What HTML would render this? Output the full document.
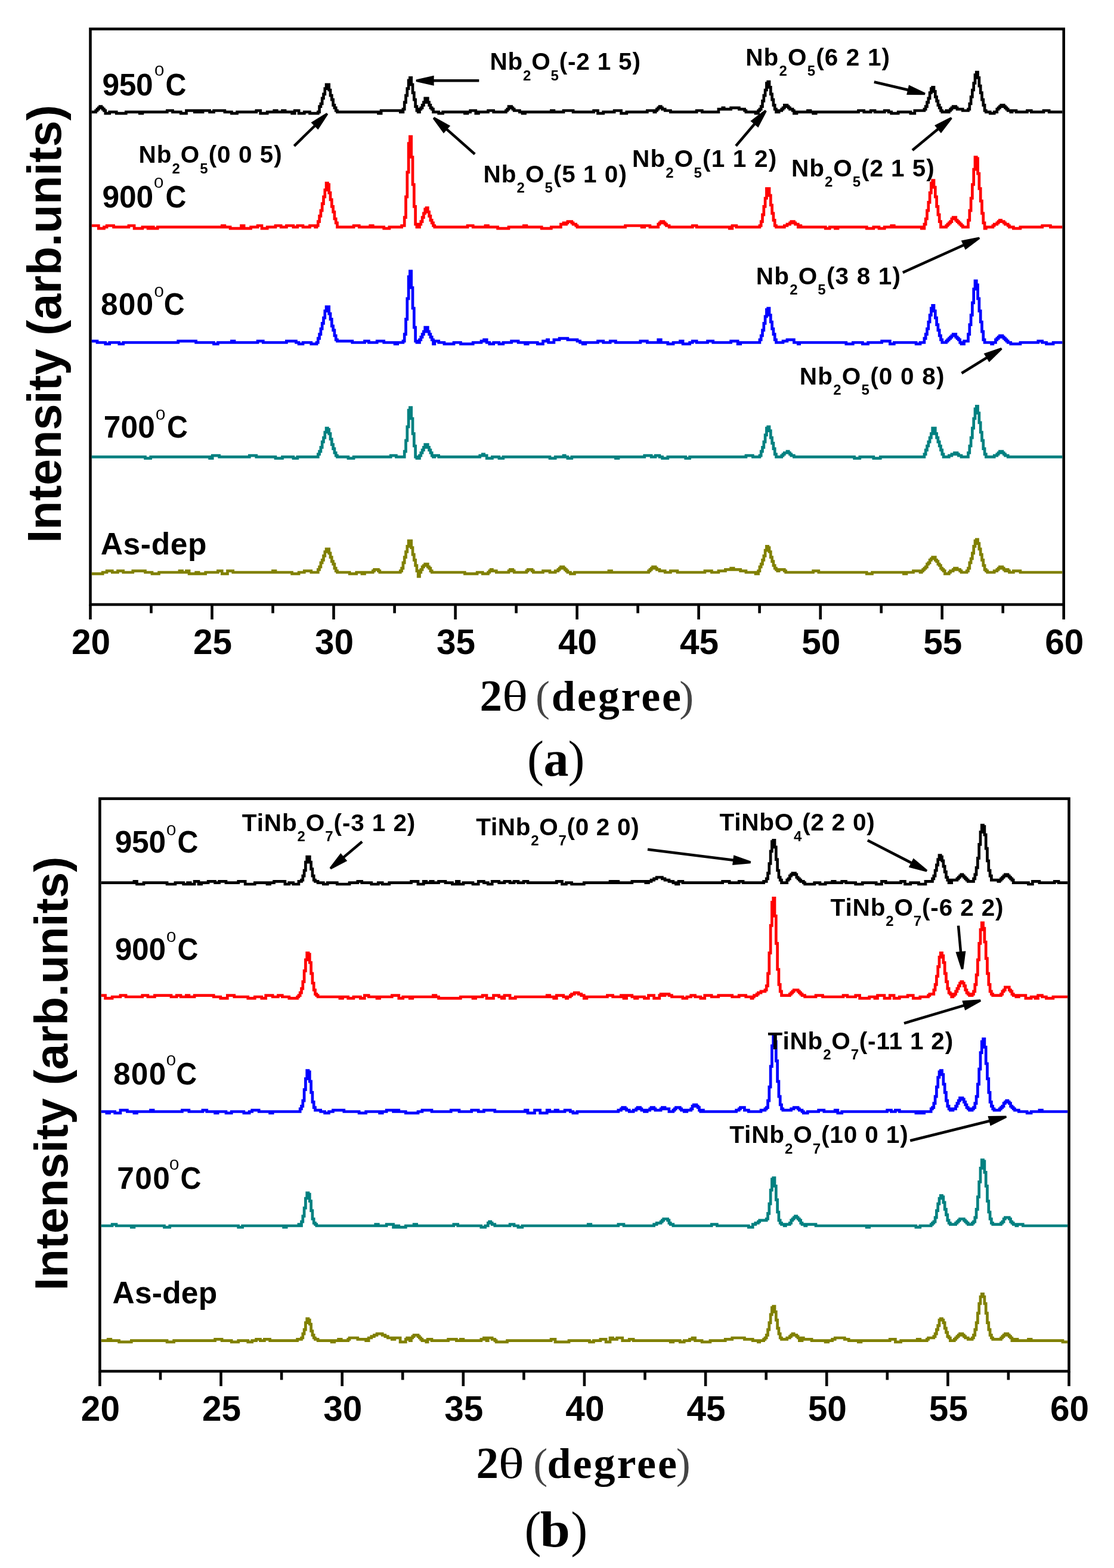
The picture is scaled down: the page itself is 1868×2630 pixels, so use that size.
<!DOCTYPE html>
<html><head><meta charset="utf-8"><title>XRD patterns</title>
<style>
html,body{margin:0;padding:0;background:#fff;}
svg{display:block;}
.b{font-family:"Liberation Sans",Arial,sans-serif;font-weight:bold;fill:#000;}
.r{font-family:"Liberation Sans",Arial,sans-serif;font-weight:normal;fill:#000;}
.sb{font-family:"Liberation Serif","Times New Roman",serif;font-weight:bold;fill:#000;}
.sr{font-family:"Liberation Serif","Times New Roman",serif;font-weight:normal;fill:#000;}
.srl{font-family:"Liberation Serif","Times New Roman",serif;font-weight:normal;fill:#444;}
</style></head>
<body>
<svg width="1868" height="2630" viewBox="0 0 1868 2630">
<rect x="0" y="0" width="1868" height="2630" fill="#fff"/>
<rect x="151.5" y="48.6" width="1632.2" height="965.4" fill="none" stroke="#000" stroke-width="4.6"/><line x1="151.5" y1="1014.0" x2="151.5" y2="1039.0" stroke="#000" stroke-width="4.6"/><line x1="253.5" y1="1014.0" x2="253.5" y2="1028.5" stroke="#000" stroke-width="4.6"/><line x1="355.5" y1="1014.0" x2="355.5" y2="1039.0" stroke="#000" stroke-width="4.6"/><line x1="457.5" y1="1014.0" x2="457.5" y2="1028.5" stroke="#000" stroke-width="4.6"/><line x1="559.5" y1="1014.0" x2="559.5" y2="1039.0" stroke="#000" stroke-width="4.6"/><line x1="661.6" y1="1014.0" x2="661.6" y2="1028.5" stroke="#000" stroke-width="4.6"/><line x1="763.6" y1="1014.0" x2="763.6" y2="1039.0" stroke="#000" stroke-width="4.6"/><line x1="865.6" y1="1014.0" x2="865.6" y2="1028.5" stroke="#000" stroke-width="4.6"/><line x1="967.6" y1="1014.0" x2="967.6" y2="1039.0" stroke="#000" stroke-width="4.6"/><line x1="1069.6" y1="1014.0" x2="1069.6" y2="1028.5" stroke="#000" stroke-width="4.6"/><line x1="1171.6" y1="1014.0" x2="1171.6" y2="1039.0" stroke="#000" stroke-width="4.6"/><line x1="1273.6" y1="1014.0" x2="1273.6" y2="1028.5" stroke="#000" stroke-width="4.6"/><line x1="1375.7" y1="1014.0" x2="1375.7" y2="1039.0" stroke="#000" stroke-width="4.6"/><line x1="1477.7" y1="1014.0" x2="1477.7" y2="1028.5" stroke="#000" stroke-width="4.6"/><line x1="1579.7" y1="1014.0" x2="1579.7" y2="1039.0" stroke="#000" stroke-width="4.6"/><line x1="1681.7" y1="1014.0" x2="1681.7" y2="1028.5" stroke="#000" stroke-width="4.6"/><line x1="1783.7" y1="1014.0" x2="1783.7" y2="1039.0" stroke="#000" stroke-width="4.6"/>
<rect x="167.4" y="1339.6" width="1625.1" height="960.4" fill="none" stroke="#000" stroke-width="4.6"/><line x1="167.4" y1="2300.0" x2="167.4" y2="2325.0" stroke="#000" stroke-width="4.6"/><line x1="269.0" y1="2300.0" x2="269.0" y2="2314.5" stroke="#000" stroke-width="4.6"/><line x1="370.5" y1="2300.0" x2="370.5" y2="2325.0" stroke="#000" stroke-width="4.6"/><line x1="472.1" y1="2300.0" x2="472.1" y2="2314.5" stroke="#000" stroke-width="4.6"/><line x1="573.7" y1="2300.0" x2="573.7" y2="2325.0" stroke="#000" stroke-width="4.6"/><line x1="675.2" y1="2300.0" x2="675.2" y2="2314.5" stroke="#000" stroke-width="4.6"/><line x1="776.8" y1="2300.0" x2="776.8" y2="2325.0" stroke="#000" stroke-width="4.6"/><line x1="878.4" y1="2300.0" x2="878.4" y2="2314.5" stroke="#000" stroke-width="4.6"/><line x1="979.9" y1="2300.0" x2="979.9" y2="2325.0" stroke="#000" stroke-width="4.6"/><line x1="1081.5" y1="2300.0" x2="1081.5" y2="2314.5" stroke="#000" stroke-width="4.6"/><line x1="1183.1" y1="2300.0" x2="1183.1" y2="2325.0" stroke="#000" stroke-width="4.6"/><line x1="1284.7" y1="2300.0" x2="1284.7" y2="2314.5" stroke="#000" stroke-width="4.6"/><line x1="1386.2" y1="2300.0" x2="1386.2" y2="2325.0" stroke="#000" stroke-width="4.6"/><line x1="1487.8" y1="2300.0" x2="1487.8" y2="2314.5" stroke="#000" stroke-width="4.6"/><line x1="1589.4" y1="2300.0" x2="1589.4" y2="2325.0" stroke="#000" stroke-width="4.6"/><line x1="1690.9" y1="2300.0" x2="1690.9" y2="2314.5" stroke="#000" stroke-width="4.6"/><line x1="1792.5" y1="2300.0" x2="1792.5" y2="2325.0" stroke="#000" stroke-width="4.6"/>
<path d="M153.8,187.8H160.7V185.5H163.0V183.2H165.3V180.9H167.6V178.6H169.9V180.9H172.2V183.2H174.5V185.5H176.8V190.1H183.7V187.8H195.2V190.1H211.3V187.8H234.3V190.1H238.9V187.8H280.3V185.5H289.5V187.8H303.3V190.1H312.5V185.5H326.3V187.8H330.9V185.5H335.5V187.8H340.1V185.5H351.6V187.8H358.5V185.5H376.9V187.8H388.4V190.1H397.6V187.8H429.8V185.5H436.7V190.1H448.2V187.8H459.7V185.5H464.3V187.8H473.5V185.5H478.1V187.8H489.6V190.1H494.2V185.5H501.1V190.1H510.3V187.8H519.5V190.1H533.3V187.8H535.6V178.6H537.9V174.0H540.2V164.8H542.5V157.9H544.8V148.7H547.1V141.8H551.7V151.0H554.0V160.2H556.3V167.1H558.6V176.3H560.9V180.9H563.2V185.5H565.5V187.8H634.5V190.1H639.1V185.5H671.3V187.8H675.9V183.2H678.2V171.7H680.5V160.2H682.8V148.7H685.1V134.9H687.4V130.3H689.7V141.8H692.0V155.6H694.3V167.1H696.6V178.6H698.9V185.5H701.2V187.8H703.5V183.2H705.8V180.9H708.1V176.3H710.4V171.7H712.7V164.8H717.3V171.7H719.6V176.3H721.9V180.9H724.2V183.2H726.5V187.8H735.7V190.1H742.6V187.8H779.4V190.1H784.0V187.8H788.6V185.5H797.8V190.1H802.4V187.8H818.5V185.5H827.7V187.8H848.4V185.5H850.7V183.2H853.0V178.6H857.6V180.9H859.9V183.2H862.2V185.5H871.4V187.8H876.0V190.1H880.6V187.8H924.3V185.5H928.9V187.8H945.0V185.5H961.1V187.8H995.6V185.5H1002.5V190.1H1011.7V187.8H1030.1V185.5H1041.6V190.1H1050.8V187.8H1085.3V185.5H1096.8V187.8H1099.1V185.5H1101.4V183.2H1103.7V180.9H1106.0V178.6H1108.3V180.9H1110.6V183.2H1115.2V185.5H1124.4V187.8H1168.1V185.5H1177.3V187.8H1204.9V183.2H1211.8V180.9H1214.1V183.2H1225.6V180.9H1239.4V183.2H1248.6V185.5H1250.9V187.8H1267.0V190.1H1271.6V185.5H1273.9V183.2H1276.2V178.6H1278.5V169.4H1280.8V160.2H1283.1V151.0H1285.4V139.5H1287.7V137.2H1290.0V146.4H1292.3V157.9H1294.6V167.1H1296.9V176.3H1299.2V183.2H1301.5V187.8H1306.1V185.5H1310.7V183.2H1313.0V180.9H1315.3V176.3H1319.9V178.6H1322.2V180.9H1324.5V183.2H1329.1V185.5H1331.4V190.1H1336.0V187.8H1354.4V185.5H1359.0V187.8H1363.6V190.1H1368.2V187.8H1439.5V185.5H1448.7V187.8H1460.2V185.5H1467.1V187.8H1483.2V185.5H1490.1V187.8H1494.7V190.1H1506.2V187.8H1526.9V190.1H1533.8V185.5H1549.9V183.2H1552.2V178.6H1554.5V171.7H1556.8V164.8H1559.1V155.6H1561.4V148.7H1563.7V146.4H1566.0V153.3H1568.3V162.5H1570.6V169.4H1572.9V176.3H1575.2V180.9H1577.5V185.5H1579.8V187.8H1586.7V185.5H1589.0V187.8H1591.3V185.5H1593.6V183.2H1595.9V180.9H1598.2V178.6H1602.8V180.9H1605.1V183.2H1614.3V185.5H1623.5V183.2H1625.8V174.0H1628.1V162.5H1630.4V151.0H1632.7V139.5H1635.0V125.7H1637.3V121.1H1639.6V130.3H1641.9V144.1H1644.2V155.6H1646.5V167.1H1648.8V176.3H1651.1V185.5H1653.4V187.8H1660.3V190.1H1667.2V187.8H1671.8V183.2H1674.1V180.9H1676.4V178.6H1678.7V176.3H1683.3V178.6H1685.6V180.9H1687.9V183.2H1690.2V185.5H1694.8V187.8H1697.1V185.5H1704.0V187.8H1722.4V185.5H1729.3V187.8H1750.0V185.5H1759.2V187.8H1781.4" fill="none" stroke="#000000" stroke-width="4.7"/>
<path d="M153.8,378.5H165.3V383.1H174.5V380.8H179.1V378.5H190.6V380.8H215.9V378.5H225.1V383.1H238.9V380.8H248.1V383.1H252.7V380.8H257.3V383.1H264.2V380.8H372.3V378.5H376.9V380.8H386.1V383.1H404.5V378.5H409.1V383.1H420.6V380.8H432.1V378.5H439.0V383.1H448.2V380.8H462.0V378.5H471.2V380.8H480.4V378.5H491.9V380.8H498.8V378.5H508.0V380.8H519.5V378.5H528.7V380.8H531.0V378.5H533.3V371.6H535.6V362.4H537.9V353.2H540.2V341.7H542.5V330.2H544.8V318.7H547.1V307.2H549.4V309.5H551.7V323.3H554.0V334.8H556.3V346.3H558.6V355.5H560.9V367.0H563.2V373.9H565.5V380.8H593.1V378.5H602.3V380.8H620.7V378.5H625.3V380.8H643.7V383.1H652.9V380.8H673.6V378.5H678.2V364.7H680.5V330.2H682.8V288.8H685.1V240.5H687.4V229.0H689.7V263.5H692.0V309.5H694.3V346.3H696.6V376.2H698.9V380.8H703.5V376.2H705.8V371.6H708.1V364.7H710.4V357.8H712.7V350.9H715.0V348.6H717.3V355.5H719.6V362.4H721.9V369.3H724.2V373.9H726.5V378.5H728.8V380.8H784.0V378.5H793.2V380.8H813.9V378.5H818.5V380.8H834.6V383.1H853.0V380.8H878.3V378.5H882.9V380.8H908.2V383.1H924.3V380.8H940.4V376.2H945.0V373.9H947.3V376.2H949.6V373.9H951.9V371.6H958.8V373.9H961.1V376.2H965.7V378.5H968.0V380.8H1048.5V378.5H1076.1V380.8H1080.7V378.5H1089.9V380.8H1103.7V376.2H1106.0V373.9H1108.3V371.6H1112.9V373.9H1115.2V376.2H1117.5V378.5H1122.1V380.8H1161.2V378.5H1168.1V380.8H1223.3V383.1H1227.9V378.5H1234.8V380.8H1273.9V378.5H1276.2V371.6H1278.5V360.1H1280.8V346.3H1283.1V332.5H1285.4V316.4H1290.0V327.9H1292.3V344.0H1294.6V357.8H1296.9V369.3H1299.2V378.5H1301.5V380.8H1315.3V378.5H1319.9V376.2H1324.5V373.9H1326.8V371.6H1331.4V373.9H1333.7V376.2H1338.3V380.8H1340.6V378.5H1342.9V380.8H1384.3V383.1H1391.2V380.8H1400.4V383.1H1405.0V380.8H1453.3V383.1H1464.8V380.8H1474.0V383.1H1483.2V380.8H1494.7V378.5H1499.3V380.8H1545.3V383.1H1549.9V376.2H1552.2V367.0H1554.5V353.2H1556.8V339.4H1559.1V323.3H1561.4V307.2H1563.7V302.6H1566.0V314.1H1568.3V330.2H1570.6V346.3H1572.9V360.1H1575.2V371.6H1577.5V380.8H1586.7V378.5H1589.0V376.2H1591.3V373.9H1593.6V371.6H1595.9V367.0H1598.2V364.7H1602.8V369.3H1605.1V371.6H1607.4V373.9H1609.7V376.2H1612.0V378.5H1614.3V380.8H1623.5V369.3H1625.8V353.2H1628.1V332.5H1630.4V309.5H1632.7V284.2H1635.0V263.5H1637.3V265.8H1639.6V291.1H1641.9V316.4H1644.2V337.1H1646.5V357.8H1648.8V373.9H1651.1V383.1H1653.4V380.8H1664.9V378.5H1667.2V376.2H1671.8V373.9H1674.1V371.6H1676.4V369.3H1678.7V371.6H1683.3V373.9H1685.6V376.2H1690.2V378.5H1692.5V380.8H1699.4V383.1H1710.9V380.8H1747.7V378.5H1761.5V380.8H1781.4" fill="none" stroke="#ff0000" stroke-width="4.7"/>
<path d="M153.8,572.2H163.0V574.5H176.8V576.8H183.7V574.5H199.8V576.8H206.7V574.5H298.7V572.2H328.6V574.5H358.5V576.8H365.4V574.5H388.4V572.2H393.0V574.5H432.1V572.2H441.3V574.5H480.4V572.2H496.5V574.5H501.1V576.8H508.0V574.5H521.8V576.8H531.0V574.5H533.3V567.6H535.6V560.7H537.9V551.5H540.2V542.3H542.5V533.1H544.8V521.6H547.1V514.7H551.7V526.2H554.0V535.4H556.3V546.9H558.6V553.8H560.9V563.0H563.2V569.9H565.5V572.2H590.8V574.5H611.5V572.2H618.4V574.5H632.2V572.2H643.7V574.5H662.1V576.8H666.7V574.5H675.9V572.2H678.2V560.7H680.5V535.4H682.8V500.9H685.1V464.1H687.4V454.9H689.7V482.5H692.0V517.0H694.3V549.2H696.6V572.2H698.9V574.5H703.5V569.9H705.8V565.3H708.1V560.7H710.4V556.1H712.7V549.2H717.3V556.1H719.6V560.7H721.9V565.3H724.2V569.9H726.5V576.8H728.8V572.2H735.7V574.5H744.9V576.8H761.0V574.5H772.5V576.8H793.2V574.5H807.0V572.2H811.6V569.9H816.2V574.5H820.8V576.8H827.7V574.5H836.9V576.8H843.8V574.5H857.6V572.2H869.1V574.5H880.6V576.8H885.2V574.5H901.3V576.8H910.5V572.2H917.4V569.9H919.7V574.5H928.9V569.9H938.1V567.6H951.9V569.9H968.0V572.2H972.6V574.5H977.2V576.8H981.8V574.5H1002.5V572.2H1011.7V574.5H1023.2V572.2H1032.4V574.5H1073.8V572.2H1085.3V574.5H1103.7V569.9H1108.3V574.5H1119.8V576.8H1129.0V574.5H1140.5V572.2H1145.1V576.8H1156.6V574.5H1161.2V572.2H1168.1V574.5H1186.5V572.2H1195.7V574.5H1225.6V572.2H1237.1V576.8H1241.7V574.5H1273.9V569.9H1276.2V563.0H1278.5V553.8H1280.8V542.3H1283.1V530.8H1285.4V519.3H1287.7V517.0H1290.0V528.5H1292.3V540.0H1294.6V551.5H1296.9V560.7H1299.2V569.9H1301.5V574.5H1313.0V572.2H1319.9V569.9H1331.4V574.5H1338.3V576.8H1340.6V574.5H1418.8V576.8H1430.3V574.5H1446.4V576.8H1455.6V574.5H1478.6V572.2H1492.4V576.8H1499.3V574.5H1536.1V576.8H1543.0V574.5H1549.9V567.6H1552.2V560.7H1554.5V551.5H1556.8V540.0H1559.1V528.5H1561.4V517.0H1563.7V512.4H1566.0V521.6H1568.3V533.1H1570.6V544.6H1572.9V553.8H1575.2V563.0H1577.5V569.9H1579.8V574.5H1586.7V572.2H1589.0V569.9H1591.3V567.6H1593.6V565.3H1595.9V563.0H1598.2V560.7H1602.8V565.3H1605.1V567.6H1607.4V569.9H1609.7V574.5H1612.0V576.8H1616.6V572.2H1623.5V560.7H1625.8V544.6H1628.1V528.5H1630.4V507.8H1632.7V484.8H1635.0V471.0H1637.3V477.9H1639.6V500.9H1641.9V521.6H1644.2V540.0H1646.5V556.1H1648.8V569.9H1651.1V574.5H1662.6V576.8H1664.9V574.5H1669.5V569.9H1671.8V567.6H1674.1V565.3H1676.4V563.0H1681.0V565.3H1683.3V567.6H1685.6V569.9H1687.9V572.2H1690.2V574.5H1694.8V576.8H1710.9V574.5H1740.8V572.2H1747.7V574.5H1754.6V576.8H1766.1V574.5H1781.4" fill="none" stroke="#0000ff" stroke-width="4.7"/>
<path d="M153.8,766.4H243.5V768.7H252.7V766.4H351.6V768.7H356.2V764.1H367.7V766.4H418.3V764.1H429.8V766.4H462.0V768.7H473.5V766.4H491.9V768.7H498.8V766.4H533.3V761.8H535.6V757.2H537.9V750.3H540.2V741.1H542.5V734.2H544.8V725.0H547.1V718.1H549.4V720.4H551.7V727.3H554.0V736.5H556.3V745.7H558.6V752.6H560.9V759.5H563.2V764.1H565.5V766.4H583.9V768.7H593.1V766.4H655.2V764.1H664.4V766.4H678.2V757.2H680.5V738.8H682.8V715.8H685.1V688.2H687.4V683.6H689.7V702.0H692.0V727.3H694.3V748.0H696.6V766.4H698.9V768.7H703.5V764.1H705.8V759.5H708.1V754.9H710.4V750.3H712.7V745.7H717.3V750.3H719.6V754.9H721.9V759.5H724.2V764.1H726.5V766.4H728.8V764.1H735.7V766.4H804.7V764.1H809.3V761.8H811.6V764.1H816.2V768.7H825.4V766.4H836.9V768.7H843.8V766.4H922.0V768.7H931.2V766.4H945.0V764.1H947.3V766.4H951.9V768.7H958.8V766.4H1032.4V768.7H1037.0V766.4H1080.7V764.1H1092.2V766.4H1099.1V764.1H1106.0V766.4H1110.6V768.7H1119.8V766.4H1149.7V768.7H1156.6V766.4H1250.9V764.1H1262.4V766.4H1273.9V764.1H1276.2V757.2H1278.5V750.3H1280.8V741.1H1283.1V729.6H1285.4V718.1H1287.7V715.8H1290.0V722.7H1292.3V734.2H1294.6V743.4H1296.9V752.6H1299.2V761.8H1301.5V766.4H1310.7V764.1H1313.0V761.8H1315.3V759.5H1319.9V757.2H1322.2V759.5H1324.5V761.8H1326.8V764.1H1331.4V766.4H1432.6V768.7H1441.8V766.4H1464.8V768.7H1476.3V766.4H1549.9V761.8H1552.2V754.9H1554.5V748.0H1556.8V741.1H1559.1V734.2H1561.4V727.3H1563.7V718.1H1568.3V727.3H1570.6V734.2H1572.9V741.1H1575.2V748.0H1577.5V754.9H1579.8V761.8H1582.1V766.4H1591.3V764.1H1595.9V761.8H1600.5V759.5H1605.1V761.8H1607.4V764.1H1612.0V766.4H1623.5V759.5H1625.8V748.0H1628.1V734.2H1630.4V718.1H1632.7V702.0H1635.0V685.9H1637.3V681.3H1639.6V692.8H1641.9V708.9H1644.2V725.0H1646.5V738.8H1648.8V752.6H1651.1V761.8H1653.4V766.4H1667.2V764.1H1671.8V761.8H1674.1V759.5H1676.4V757.2H1681.0V759.5H1683.3V761.8H1685.6V764.1H1690.2V766.4H1781.4" fill="none" stroke="#008080" stroke-width="4.7"/>
<path d="M153.8,962.3H172.2V960.0H179.1V957.7H188.3V960.0H197.5V957.7H206.7V960.0H222.8V957.7H243.5V960.0H255.0V962.3H266.5V960.0H301.0V957.7H305.6V960.0H312.5V957.7H317.1V962.3H328.6V960.0H333.2V962.3H344.7V960.0H365.4V957.7H372.3V962.3H381.5V957.7H390.7V960.0H457.4V957.7H462.0V960.0H489.6V962.3H501.1V960.0H510.3V957.7H521.8V960.0H533.3V955.4H535.6V950.8H537.9V943.9H540.2V939.3H542.5V932.4H544.8V925.5H547.1V920.9H551.7V927.8H554.0V934.7H556.3V941.6H558.6V946.2H560.9V953.1H563.2V957.7H565.5V960.0H586.2V962.3H597.7V960.0H606.9V962.3H611.5V960.0H625.3V957.7H627.6V955.4H634.5V957.7H636.8V960.0H671.3V957.7H673.6V953.1H675.9V943.9H678.2V934.7H680.5V925.5H682.8V916.3H685.1V907.1H689.7V918.6H692.0V930.1H694.3V939.3H696.6V948.5H698.9V957.7H701.2V966.9H703.5V960.0H705.8V955.4H708.1V950.8H710.4V948.5H712.7V946.2H717.3V950.8H719.6V953.1H721.9V957.7H724.2V960.0H779.4V962.3H800.1V960.0H809.3V962.3H818.5V960.0H820.8V957.7H823.1V955.4H825.4V957.7H832.3V960.0H853.0V957.7H855.3V955.4H859.9V957.7H862.2V960.0H882.9V957.7H885.2V955.4H892.1V957.7H894.4V960.0H910.5V957.7H922.0V960.0H931.2V957.7H935.8V955.4H938.1V953.1H940.4V950.8H945.0V953.1H947.3V955.4H949.6V957.7H951.9V960.0H956.5V962.3H963.4V960.0H1020.9V957.7H1025.5V960.0H1087.6V957.7H1089.9V955.4H1092.2V953.1H1094.5V950.8H1099.1V953.1H1101.4V955.4H1106.0V957.7H1115.2V960.0H1124.4V957.7H1135.9V960.0H1181.9V957.7H1193.4V960.0H1204.9V957.7H1216.4V955.4H1225.6V953.1H1230.2V955.4H1241.7V957.7H1250.9V960.0H1267.0V962.3H1271.6V957.7H1273.9V950.8H1276.2V946.2H1278.5V939.3H1280.8V932.4H1283.1V923.2H1285.4V916.3H1287.7V918.6H1290.0V925.5H1292.3V934.7H1294.6V941.6H1296.9V948.5H1299.2V953.1H1301.5V955.4H1303.8V957.7H1306.1V955.4H1315.3V957.7H1317.6V960.0H1363.6V957.7H1372.8V960.0H1453.3V962.3H1462.5V960.0H1515.4V962.3H1520.0V960.0H1531.5V957.7H1543.0V960.0H1545.3V957.7H1547.6V955.4H1549.9V953.1H1552.2V950.8H1554.5V946.2H1556.8V943.9H1559.1V939.3H1561.4V937.0H1563.7V934.7H1568.3V939.3H1570.6V941.6H1572.9V946.2H1575.2V948.5H1577.5V953.1H1579.8V955.4H1582.1V957.7H1584.4V962.3H1591.3V960.0H1593.6V957.7H1598.2V955.4H1600.5V953.1H1605.1V955.4H1609.7V957.7H1612.0V960.0H1621.2V957.7H1623.5V953.1H1625.8V943.9H1628.1V937.0H1630.4V927.8H1632.7V916.3H1635.0V907.1H1637.3V904.8H1639.6V911.7H1641.9V920.9H1644.2V930.1H1646.5V939.3H1648.8V948.5H1651.1V955.4H1653.4V957.7H1655.7V960.0H1667.2V957.7H1671.8V955.4H1674.1V953.1H1676.4V950.8H1681.0V953.1H1683.3V955.4H1685.6V957.7H1687.9V955.4H1690.2V957.7H1692.5V960.0H1699.4V957.7H1710.9V960.0H1781.4" fill="none" stroke="#808000" stroke-width="4.7"/>
<path d="M169.7,1480.7H224.9V1478.4H229.5V1483.0H241.0V1480.7H280.1V1483.0H293.9V1480.7H307.7V1483.0H314.6V1480.7H319.2V1483.0H326.1V1478.4H333.0V1483.0H337.6V1480.7H349.1V1478.4H360.6V1480.7H367.5V1478.4H379.0V1480.7H399.7V1478.4H411.2V1483.0H427.3V1480.7H448.0V1483.0H452.6V1480.7H459.5V1478.4H477.9V1483.0H484.8V1480.7H491.7V1483.0H500.9V1478.4H505.5V1476.1H507.8V1469.2H510.1V1460.0H512.4V1446.2H514.7V1437.0H519.3V1446.2H521.6V1457.7H523.9V1469.2H526.2V1476.1H528.5V1478.4H533.1V1480.7H542.3V1483.0H549.2V1480.7H565.3V1483.0H586.0V1480.7H599.8V1478.4H606.7V1480.7H622.8V1483.0H634.3V1480.7H641.2V1483.0H652.7V1480.7H689.5V1478.4H701.0V1483.0H710.2V1478.4H714.8V1480.7H721.7V1478.4H726.3V1480.7H735.5V1478.4H747.0V1480.7H758.5V1483.0H765.4V1478.4H770.0V1483.0H776.9V1480.7H793.0V1483.0H802.2V1478.4H811.4V1480.7H818.3V1483.0H825.2V1478.4H836.7V1480.7H845.9V1478.4H855.1V1480.7H862.0V1478.4H868.9V1480.7H878.1V1478.4H885.0V1480.7H933.3V1478.4H942.5V1483.0H949.4V1480.7H958.6V1483.0H979.3V1480.7H1023.0V1478.4H1027.6V1480.7H1032.2V1478.4H1036.8V1480.7H1059.8V1478.4H1082.8V1480.7H1087.4V1478.4H1092.0V1476.1H1096.6V1473.8H1101.2V1471.5H1110.4V1473.8H1115.0V1476.1H1121.9V1478.4H1128.8V1480.7H1133.4V1483.0H1138.0V1478.4H1144.9V1480.7H1211.6V1478.4H1223.1V1480.7H1239.2V1478.4H1246.1V1480.7H1280.6V1478.4H1285.2V1473.8H1287.5V1464.6H1289.8V1448.5H1292.1V1427.8H1294.4V1411.7H1296.7V1409.4H1299.0V1420.9H1301.3V1441.6H1303.6V1460.0H1305.9V1471.5H1308.2V1476.1H1310.5V1480.7H1319.7V1476.1H1322.0V1473.8H1324.3V1469.2H1326.6V1466.9H1328.9V1464.6H1333.5V1466.9H1335.8V1471.5H1338.1V1473.8H1340.4V1476.1H1342.7V1478.4H1347.3V1480.7H1349.6V1483.0H1365.7V1480.7H1374.9V1483.0H1384.1V1480.7H1395.6V1478.4H1400.2V1480.7H1411.7V1478.4H1418.6V1480.7H1434.7V1483.0H1446.2V1480.7H1469.2V1483.0H1478.4V1478.4H1485.3V1480.7H1510.6V1478.4H1517.5V1483.0H1526.7V1480.7H1540.5V1483.0H1552.0V1478.4H1563.5V1473.8H1565.8V1469.2H1568.1V1460.0H1570.4V1450.8H1572.7V1441.6H1575.0V1434.7H1577.3V1437.0H1579.6V1443.9H1581.9V1453.1H1584.2V1462.3H1586.5V1471.5H1588.8V1476.1H1591.1V1480.7H1595.7V1476.1H1604.9V1473.8H1607.2V1471.5H1609.5V1469.2H1611.8V1466.9H1614.1V1469.2H1616.4V1471.5H1618.7V1473.8H1621.0V1476.1H1623.3V1478.4H1632.5V1473.8H1634.8V1466.9H1637.1V1455.4H1639.4V1439.3H1641.7V1416.3H1644.0V1395.6H1646.3V1384.1H1648.6V1386.4H1650.9V1400.2H1653.2V1423.2H1655.5V1443.9H1657.8V1460.0H1660.1V1469.2H1662.4V1476.1H1673.9V1478.4H1676.2V1476.1H1678.5V1473.8H1680.8V1471.5H1683.1V1469.2H1685.4V1466.9H1690.0V1469.2H1692.3V1471.5H1694.6V1473.8H1696.9V1476.1H1699.2V1480.7H1724.5V1483.0H1731.4V1478.4H1742.9V1480.7H1768.2V1478.4H1775.1V1480.7H1790.2" fill="none" stroke="#000000" stroke-width="4.7"/>
<path d="M169.7,1669.7H176.6V1674.3H188.1V1672.0H201.9V1669.7H211.1V1672.0H238.7V1669.7H247.9V1672.0H259.4V1669.7H287.0V1672.0H296.2V1669.7H303.1V1672.0H312.3V1669.7H316.9V1672.0H326.1V1669.7H358.3V1672.0H369.8V1674.3H381.3V1669.7H392.8V1672.0H415.8V1674.3H427.3V1672.0H438.8V1674.3H445.7V1669.7H457.2V1672.0H466.4V1669.7H473.3V1672.0H484.8V1674.3H498.6V1672.0H500.9V1669.7H503.2V1665.1H505.5V1658.2H507.8V1646.7H510.1V1628.3H512.4V1609.9H514.7V1598.4H517.0V1600.7H519.3V1614.5H521.6V1632.9H523.9V1649.0H526.2V1660.5H528.5V1667.4H530.8V1669.7H533.1V1672.0H569.9V1674.3H574.5V1672.0H583.7V1674.3H592.9V1672.0H604.4V1674.3H611.3V1669.7H618.2V1672.0H632.0V1674.3H636.6V1672.0H657.3V1669.7H668.8V1674.3H675.7V1672.0H687.2V1674.3H691.8V1672.0H726.3V1669.7H730.9V1672.0H735.5V1674.3H772.3V1672.0H793.0V1674.3H797.6V1672.0H809.1V1669.7H816.0V1674.3H827.5V1669.7H836.7V1672.0H841.3V1674.3H845.9V1669.7H855.1V1674.3H864.3V1672.0H917.2V1669.7H921.8V1672.0H928.7V1674.3H933.3V1669.7H944.8V1672.0H949.4V1674.3H951.7V1672.0H956.3V1669.7H958.6V1667.4H963.2V1665.1H970.1V1667.4H974.7V1669.7H979.3V1674.3H983.9V1672.0H1018.4V1669.7H1027.6V1672.0H1041.4V1669.7H1046.0V1674.3H1050.6V1669.7H1059.8V1672.0H1064.4V1674.3H1069.0V1672.0H1080.5V1674.3H1087.4V1669.7H1096.6V1674.3H1105.8V1669.7H1108.1V1667.4H1112.7V1669.7H1115.0V1667.4H1121.9V1669.7H1126.5V1672.0H1144.9V1674.3H1151.8V1672.0H1158.7V1669.7H1165.6V1672.0H1174.8V1674.3H1181.7V1669.7H1193.2V1672.0H1204.7V1669.7H1227.7V1672.0H1239.2V1669.7H1250.7V1672.0H1259.9V1674.3H1262.2V1672.0H1264.5V1669.7H1269.1V1667.4H1271.4V1665.1H1276.0V1662.8H1282.9V1660.5H1285.2V1653.6H1287.5V1632.9H1289.8V1598.4H1292.1V1552.4H1294.4V1513.3H1296.7V1506.4H1299.0V1536.3H1301.3V1582.3H1303.6V1626.0H1305.9V1651.3H1308.2V1662.8H1310.5V1669.7H1324.3V1667.4H1326.6V1665.1H1328.9V1662.8H1331.2V1660.5H1338.1V1662.8H1340.4V1665.1H1342.7V1667.4H1345.0V1669.7H1349.6V1672.0H1368.0V1669.7H1379.5V1672.0H1414.0V1669.7H1420.9V1672.0H1434.7V1669.7H1441.6V1674.3H1457.7V1672.0H1466.9V1674.3H1471.5V1669.7H1483.0V1674.3H1492.2V1669.7H1499.1V1674.3H1508.3V1672.0H1522.1V1669.7H1531.3V1674.3H1542.8V1672.0H1556.6V1669.7H1558.9V1667.4H1565.8V1660.5H1568.1V1651.3H1570.4V1637.5H1572.7V1621.4H1575.0V1605.3H1577.3V1598.4H1579.6V1603.0H1581.9V1614.5H1584.2V1632.9H1586.5V1646.7H1588.8V1658.2H1591.1V1665.1H1593.4V1667.4H1595.7V1672.0H1598.0V1669.7H1600.3V1667.4H1602.6V1662.8H1604.9V1658.2H1607.2V1653.6H1609.5V1649.0H1611.8V1646.7H1614.1V1649.0H1616.4V1653.6H1618.7V1660.5H1621.0V1665.1H1623.3V1667.4H1625.6V1669.7H1630.2V1667.4H1632.5V1662.8H1634.8V1651.3H1637.1V1635.2H1639.4V1609.9H1641.7V1582.3H1644.0V1559.3H1646.3V1547.8H1648.6V1557.0H1650.9V1580.0H1653.2V1607.6H1655.5V1632.9H1657.8V1651.3H1660.1V1662.8H1662.4V1667.4H1664.7V1669.7H1678.5V1667.4H1680.8V1662.8H1683.1V1660.5H1685.4V1655.9H1692.3V1660.5H1694.6V1662.8H1696.9V1667.4H1699.2V1669.7H1703.8V1672.0H1708.4V1669.7H1719.9V1674.3H1729.1V1672.0H1736.0V1674.3H1740.6V1669.7H1747.5V1672.0H1754.4V1674.3H1765.9V1672.0H1790.2" fill="none" stroke="#ff0000" stroke-width="4.7"/>
<path d="M169.7,1864.5H178.9V1866.8H183.5V1864.5H192.7V1866.8H201.9V1862.2H213.4V1864.5H224.9V1866.8H229.5V1864.5H252.5V1862.2H257.1V1864.5H305.4V1862.2H316.9V1864.5H339.9V1862.2H346.8V1864.5H360.6V1866.8H365.2V1864.5H379.0V1866.8H388.2V1864.5H408.9V1866.8H418.1V1864.5H422.7V1862.2H434.2V1864.5H452.6V1866.8H457.2V1864.5H503.2V1859.9H505.5V1855.3H507.8V1846.1H510.1V1827.7H512.4V1809.3H514.7V1795.5H517.0V1797.8H519.3V1813.9H521.6V1832.3H523.9V1848.4H526.2V1857.6H528.5V1862.2H537.7V1864.5H544.6V1866.8H551.5V1864.5H558.4V1862.2H576.8V1864.5H602.1V1866.8H613.6V1864.5H636.6V1866.8H641.2V1864.5H648.1V1862.2H659.6V1864.5H664.2V1862.2H668.8V1864.5H680.3V1866.8H701.0V1864.5H707.9V1862.2H724.0V1864.5H756.2V1862.2H770.0V1864.5H790.7V1862.2H802.2V1864.5H811.4V1862.2H829.8V1864.5H880.4V1862.2H885.0V1866.8H896.5V1862.2H905.7V1866.8H917.2V1862.2H921.8V1864.5H931.0V1862.2H935.6V1864.5H947.1V1862.2H956.3V1864.5H960.9V1866.8H967.8V1864.5H1036.8V1862.2H1041.4V1859.9H1043.7V1857.6H1048.3V1859.9H1050.6V1862.2H1055.2V1864.5H1062.1V1862.2H1066.7V1859.9H1069.0V1857.6H1073.6V1859.9H1075.9V1862.2H1080.5V1864.5H1085.1V1862.2H1089.7V1859.9H1092.0V1857.6H1096.6V1859.9H1098.9V1862.2H1108.1V1859.9H1110.4V1857.6H1115.0V1859.9H1121.9V1864.5H1128.8V1862.2H1131.1V1859.9H1133.4V1857.6H1140.3V1859.9H1142.6V1862.2H1147.2V1864.5H1151.8V1862.2H1158.7V1859.9H1161.0V1855.3H1163.3V1853.0H1167.9V1855.3H1170.2V1857.6H1172.5V1862.2H1174.8V1864.5H1177.1V1862.2H1179.4V1864.5H1234.6V1862.2H1239.2V1859.9H1241.5V1857.6H1248.4V1862.2H1255.3V1864.5H1276.0V1862.2H1282.9V1859.9H1285.2V1857.6H1287.5V1846.1H1289.8V1823.1H1292.1V1788.6H1294.4V1754.1H1296.7V1735.7H1299.0V1747.2H1301.3V1779.4H1303.6V1813.9H1305.9V1839.2H1308.2V1853.0H1310.5V1859.9H1312.8V1862.2H1326.6V1859.9H1331.2V1857.6H1338.1V1859.9H1340.4V1862.2H1345.0V1864.5H1347.3V1866.8H1354.2V1864.5H1372.6V1862.2H1381.8V1864.5H1400.2V1862.2H1404.8V1866.8H1411.7V1864.5H1487.6V1862.2H1494.5V1864.5H1501.4V1862.2H1508.3V1864.5H1535.9V1866.8H1540.5V1864.5H1545.1V1866.8H1549.7V1864.5H1561.2V1859.9H1563.5V1857.6H1565.8V1850.7H1568.1V1839.2H1570.4V1823.1H1572.7V1807.0H1575.0V1797.8H1577.3V1795.5H1579.6V1802.4H1581.9V1818.5H1584.2V1832.3H1586.5V1846.1H1588.8V1855.3H1591.1V1859.9H1593.4V1862.2H1598.0V1859.9H1602.6V1855.3H1604.9V1850.7H1607.2V1846.1H1609.5V1841.5H1614.1V1843.8H1616.4V1848.4H1618.7V1853.0H1621.0V1857.6H1623.3V1859.9H1625.6V1862.2H1630.2V1859.9H1632.5V1857.6H1634.8V1850.7H1637.1V1839.2H1639.4V1818.5H1641.7V1793.2H1644.0V1765.6H1646.3V1747.2H1648.6V1742.6H1650.9V1756.4H1653.2V1784.0H1655.5V1809.3H1657.8V1832.3H1660.1V1848.4H1662.4V1855.3H1664.7V1859.9H1667.0V1862.2H1676.2V1859.9H1678.5V1857.6H1680.8V1855.3H1683.1V1850.7H1685.4V1848.4H1687.7V1846.1H1690.0V1848.4H1692.3V1850.7H1694.6V1855.3H1696.9V1857.6H1699.2V1859.9H1701.5V1862.2H1708.4V1864.5H1722.2V1866.8H1729.1V1864.5H1742.9V1862.2H1747.5V1864.5H1790.2" fill="none" stroke="#0000ff" stroke-width="4.7"/>
<path d="M169.7,2056.0H188.1V2053.7H195.0V2056.0H220.3V2058.3H224.9V2056.0H275.5V2058.3H284.7V2056.0H399.7V2058.3H406.6V2056.0H475.6V2058.3H480.2V2056.0H500.9V2053.7H503.2V2056.0H505.5V2049.1H507.8V2039.9H510.1V2026.1H512.4V2010.0H514.7V2000.8H517.0V2003.1H519.3V2014.6H521.6V2030.7H523.9V2044.5H526.2V2051.4H528.5V2053.7H530.8V2056.0H629.7V2053.7H634.3V2056.0H648.1V2053.7H659.6V2058.3H664.2V2056.0H668.8V2058.3H680.3V2056.0H694.1V2053.7H698.7V2056.0H760.8V2053.7H767.7V2056.0H806.8V2058.3H813.7V2056.0H818.3V2051.4H820.6V2049.1H822.9V2051.4H825.2V2053.7H829.8V2056.0H855.1V2053.7H862.0V2056.0H868.9V2058.3H875.8V2056.0H986.2V2053.7H990.8V2056.0H1036.8V2053.7H1046.0V2056.0H1096.6V2053.7H1101.2V2051.4H1108.1V2049.1H1110.4V2046.8H1112.7V2044.5H1119.6V2046.8H1121.9V2051.4H1124.2V2053.7H1128.8V2056.0H1193.2V2053.7H1202.4V2056.0H1255.3V2058.3H1262.2V2053.7H1266.8V2051.4H1271.4V2049.1H1273.7V2046.8H1285.2V2044.5H1287.5V2035.3H1289.8V2019.2H1292.1V1996.2H1294.4V1977.8H1296.7V1975.5H1299.0V1989.3H1301.3V2012.3H1303.6V2033.0H1305.9V2046.8H1308.2V2051.4H1310.5V2053.7H1315.1V2056.0H1317.4V2053.7H1324.3V2051.4H1326.6V2046.8H1328.9V2044.5H1331.2V2042.2H1333.5V2039.9H1335.8V2042.2H1338.1V2044.5H1340.4V2046.8H1342.7V2051.4H1345.0V2053.7H1349.6V2056.0H1351.9V2053.7H1368.0V2056.0H1453.1V2058.3H1457.7V2056.0H1535.9V2058.3H1542.8V2056.0H1561.2V2053.7H1563.5V2051.4H1565.8V2049.1H1568.1V2042.2H1570.4V2030.7H1572.7V2019.2H1575.0V2010.0H1577.3V2005.4H1579.6V2007.7H1581.9V2016.9H1584.2V2028.4H1586.5V2037.6H1588.8V2046.8H1591.1V2051.4H1593.4V2053.7H1602.6V2051.4H1604.9V2049.1H1607.2V2046.8H1609.5V2044.5H1616.4V2046.8H1618.7V2049.1H1621.0V2051.4H1623.3V2053.7H1630.2V2051.4H1632.5V2049.1H1634.8V2042.2H1637.1V2028.4H1639.4V2007.7H1641.7V1982.4H1644.0V1959.4H1646.3V1945.6H1648.6V1947.9H1650.9V1966.3H1653.2V1989.3H1655.5V2014.6H1657.8V2033.0H1660.1V2044.5H1662.4V2051.4H1664.7V2053.7H1678.5V2051.4H1680.8V2049.1H1683.1V2044.5H1685.4V2042.2H1692.3V2044.5H1694.6V2049.1H1696.9V2051.4H1699.2V2053.7H1703.8V2056.0H1706.1V2053.7H1715.3V2056.0H1790.2" fill="none" stroke="#008080" stroke-width="4.7"/>
<path d="M169.7,2248.6H181.2V2246.3H185.8V2248.6H199.6V2250.9H220.3V2248.6H280.1V2250.9H291.6V2248.6H360.6V2246.3H372.1V2248.6H388.2V2250.9H399.7V2248.6H415.8V2250.9H422.7V2248.6H429.6V2246.3H436.5V2248.6H443.4V2246.3H452.6V2248.6H498.6V2246.3H505.5V2244.0H507.8V2237.1H510.1V2230.2H512.4V2218.7H514.7V2211.8H517.0V2214.1H519.3V2221.0H521.6V2232.5H523.9V2239.4H526.2V2244.0H528.5V2246.3H533.1V2248.6H556.1V2250.9H560.7V2248.6H567.6V2246.3H572.2V2248.6H583.7V2246.3H586.0V2244.0H599.8V2246.3H613.6V2248.6H618.2V2244.0H622.8V2241.7H627.4V2239.4H632.0V2237.1H641.2V2239.4H645.8V2241.7H650.4V2244.0H657.3V2246.3H661.9V2244.0H671.1V2250.9H680.3V2246.3H682.6V2244.0H687.2V2248.6H689.5V2244.0H691.8V2241.7H694.1V2239.4H701.0V2241.7H703.3V2244.0H705.6V2246.3H707.9V2248.6H714.8V2250.9H717.1V2246.3H724.0V2248.6H751.6V2246.3H765.4V2248.6H772.3V2246.3H776.9V2248.6H806.8V2246.3H811.4V2244.0H816.0V2248.6H818.3V2244.0H825.2V2246.3H829.8V2248.6H832.1V2250.9H850.5V2248.6H924.1V2246.3H931.0V2250.9H954.0V2248.6H988.5V2250.9H995.4V2248.6H1006.9V2246.3H1016.1V2250.9H1023.0V2244.0H1027.6V2246.3H1034.5V2244.0H1043.7V2248.6H1055.2V2246.3H1062.1V2248.6H1124.2V2250.9H1128.8V2248.6H1140.3V2250.9H1147.2V2248.6H1156.4V2246.3H1161.0V2244.0H1165.6V2248.6H1177.1V2250.9H1190.9V2248.6H1216.2V2246.3H1227.7V2244.0H1248.4V2246.3H1262.2V2248.6H1271.4V2250.9H1273.7V2248.6H1280.6V2246.3H1282.9V2244.0H1285.2V2239.4H1287.5V2230.2H1289.8V2218.7H1292.1V2204.9H1294.4V2193.4H1296.7V2191.1H1299.0V2200.3H1301.3V2214.1H1303.6V2227.9H1305.9V2237.1H1308.2V2244.0H1310.5V2246.3H1319.7V2244.0H1324.3V2241.7H1326.6V2239.4H1328.9V2237.1H1331.2V2239.4H1335.8V2241.7H1338.1V2244.0H1340.4V2248.6H1345.0V2244.0H1347.3V2246.3H1361.1V2248.6H1384.1V2250.9H1388.7V2248.6H1395.6V2246.3H1400.2V2244.0H1416.3V2246.3H1423.2V2248.6H1439.3V2250.9H1443.9V2248.6H1492.2V2246.3H1501.4V2250.9H1510.6V2248.6H1538.2V2246.3H1542.8V2248.6H1554.3V2246.3H1556.6V2244.0H1565.8V2241.7H1568.1V2237.1H1570.4V2230.2H1572.7V2223.3H1575.0V2214.1H1577.3V2211.8H1579.6V2214.1H1581.9V2218.7H1584.2V2227.9H1586.5V2234.8H1588.8V2241.7H1591.1V2244.0H1593.4V2248.6H1600.3V2246.3H1602.6V2244.0H1604.9V2241.7H1607.2V2239.4H1609.5V2237.1H1614.1V2239.4H1616.4V2241.7H1618.7V2244.0H1623.3V2246.3H1630.2V2244.0H1632.5V2239.4H1634.8V2230.2H1637.1V2218.7H1639.4V2202.6H1641.7V2186.5H1644.0V2175.0H1646.3V2170.4H1648.6V2175.0H1650.9V2186.5H1653.2V2202.6H1655.5V2218.7H1657.8V2230.2H1660.1V2239.4H1662.4V2244.0H1664.7V2246.3H1678.5V2244.0H1680.8V2241.7H1683.1V2239.4H1685.4V2237.1H1690.0V2239.4H1692.3V2241.7H1694.6V2244.0H1696.9V2248.6H1701.5V2246.3H1706.1V2248.6H1724.5V2246.3H1729.1V2248.6H1782.0V2250.9H1790.2" fill="none" stroke="#808000" stroke-width="4.7"/>
<line x1="803.3" y1="135.3" x2="712.6" y2="135.3" stroke="#000" stroke-width="4.5"/><polygon points="697.6,133.5 727.6,126.8 727.6,143.8 697.6,137.1" fill="#000"/>
<line x1="1465.8" y1="137.5" x2="1536.7" y2="154.1" stroke="#000" stroke-width="4.5"/><polygon points="1550.9,159.3 1520.2,158.9 1524.0,142.4 1551.7,155.7" fill="#000"/>
<line x1="493.3" y1="244.8" x2="538.2" y2="201.0" stroke="#000" stroke-width="4.5"/><polygon points="550.2,191.8 533.4,217.5 521.5,205.4 547.6,189.2" fill="#000"/>
<line x1="796.2" y1="258.5" x2="738.3" y2="207.4" stroke="#000" stroke-width="4.5"/><polygon points="728.2,196.1 755.1,211.0 743.9,223.7 725.8,198.9" fill="#000"/>
<line x1="1234.0" y1="244.8" x2="1274.6" y2="196.9" stroke="#000" stroke-width="4.5"/><polygon points="1285.7,186.7 1271.4,213.9 1258.4,202.9 1282.9,184.3" fill="#000"/>
<line x1="1530.0" y1="252.0" x2="1584.0" y2="207.3" stroke="#000" stroke-width="4.5"/><polygon points="1596.7,199.1 1577.9,223.4 1567.1,210.3 1594.5,196.3" fill="#000"/>
<line x1="1513.8" y1="457.1" x2="1628.9" y2="405.2" stroke="#000" stroke-width="4.5"/><polygon points="1643.3,400.6 1618.7,419.1 1611.8,403.6 1641.9,397.4" fill="#000"/>
<line x1="1612.5" y1="626.0" x2="1666.9" y2="592.4" stroke="#000" stroke-width="4.5"/><polygon points="1680.6,586.0 1658.6,607.5 1649.7,593.0 1678.8,583.0" fill="#000"/>
<line x1="607.2" y1="1411.8" x2="565.3" y2="1447.1" stroke="#000" stroke-width="4.5"/><polygon points="552.6,1455.4 571.3,1431.0 582.2,1444.0 555.0,1458.2" fill="#000"/>
<line x1="1086.0" y1="1424.8" x2="1244.0" y2="1444.5" stroke="#000" stroke-width="4.5"/><polygon points="1258.7,1448.2 1228.1,1451.1 1230.2,1434.2 1259.1,1444.6" fill="#000"/>
<line x1="1454.8" y1="1409.4" x2="1541.1" y2="1453.9" stroke="#000" stroke-width="4.5"/><polygon points="1553.6,1462.4 1523.8,1454.6 1531.6,1439.5 1555.2,1459.2" fill="#000"/>
<line x1="1607.0" y1="1552.6" x2="1612.3" y2="1610.9" stroke="#000" stroke-width="4.5"/><polygon points="1611.9,1626.0 1602.5,1596.7 1619.4,1595.2 1615.5,1625.6" fill="#000"/>
<line x1="1516.0" y1="1716.3" x2="1630.1" y2="1682.3" stroke="#000" stroke-width="4.5"/><polygon points="1645.0,1679.7 1618.2,1694.7 1613.3,1678.4 1644.0,1676.3" fill="#000"/>
<line x1="1526.2" y1="1913.3" x2="1673.1" y2="1876.7" stroke="#000" stroke-width="4.5"/><polygon points="1688.1,1874.8 1660.6,1888.6 1656.5,1872.1 1687.3,1871.4" fill="#000"/>
<text class="b" x="171.4" y="159.7" style="font-size:51.50px;letter-spacing:-0.35px;">950</text>
<text class="r" style="font-size:24.50px;" transform="translate(258.9,127.4) scale(1.200,1)">0</text>
<text class="b" style="font-size:51.50px;" transform="translate(277.6,159.7) scale(0.940,1)">C</text>
<text class="b" x="171.4" y="347.6" style="font-size:51.50px;letter-spacing:-0.10px;">900</text>
<text class="r" style="font-size:24.50px;" transform="translate(258.1,315.3) scale(1.200,1)">0</text>
<text class="b" style="font-size:51.50px;" transform="translate(277.6,347.6) scale(0.940,1)">C</text>
<text class="b" x="169.0" y="528.4" style="font-size:51.50px;letter-spacing:1.05px;">800</text>
<text class="r" style="font-size:24.50px;" transform="translate(258.5,498.3) scale(1.200,1)">0</text>
<text class="b" style="font-size:51.50px;" transform="translate(274.8,528.4) scale(0.940,1)">C</text>
<text class="b" x="173.8" y="733.9" style="font-size:51.50px;letter-spacing:0.05px;">700</text>
<text class="r" style="font-size:24.50px;" transform="translate(260.9,704.3) scale(1.200,1)">0</text>
<text class="b" style="font-size:51.50px;" transform="translate(280.0,733.9) scale(0.940,1)">C</text>
<text class="b" x="192.8" y="1430.2" style="font-size:51.50px;letter-spacing:-0.35px;">950</text>
<text class="r" style="font-size:24.50px;" transform="translate(278.9,1400.6) scale(1.200,1)">0</text>
<text class="b" style="font-size:51.50px;" transform="translate(297.6,1430.2) scale(0.940,1)">C</text>
<text class="b" x="192.8" y="1609.7" style="font-size:51.50px;letter-spacing:-0.35px;">900</text>
<text class="r" style="font-size:24.50px;" transform="translate(278.9,1580.1) scale(1.200,1)">0</text>
<text class="b" style="font-size:51.50px;" transform="translate(297.6,1609.7) scale(0.940,1)">C</text>
<text class="b" x="190.0" y="1819.4" style="font-size:51.50px;letter-spacing:1.20px;">800</text>
<text class="r" style="font-size:24.50px;" transform="translate(278.7,1786.7) scale(1.200,1)">0</text>
<text class="b" style="font-size:51.50px;" transform="translate(295.2,1819.4) scale(0.940,1)">C</text>
<text class="b" x="196.2" y="1993.9" style="font-size:51.50px;letter-spacing:1.45px;">700</text>
<text class="r" style="font-size:24.50px;" transform="translate(283.9,1961.7) scale(1.200,1)">0</text>
<text class="b" style="font-size:51.50px;" transform="translate(302.4,1993.9) scale(0.940,1)">C</text>
<text class="b" x="168.8" y="929.7" style="font-size:51.50px;letter-spacing:0.62px;">As-dep</text>
<text class="b" x="188.6" y="2186.2" style="font-size:51.50px;letter-spacing:0.20px;">As-dep</text>
<text class="b" x="821.4" y="117.4" style="font-size:40.50px;letter-spacing:0.81px;"><tspan dy="0.0">Nb</tspan><tspan dy="17.5" style="font-size:24.0px">2</tspan><tspan dy="-17.5">O</tspan><tspan dy="17.5" style="font-size:24.0px">5</tspan><tspan dy="-17.5">(-2 1 5)</tspan></text>
<text class="b" x="1250.2" y="109.7" style="font-size:40.50px;letter-spacing:1.15px;"><tspan dy="0.0">Nb</tspan><tspan dy="17.5" style="font-size:24.0px">2</tspan><tspan dy="-17.5">O</tspan><tspan dy="17.5" style="font-size:24.0px">5</tspan><tspan dy="-17.5">(6 2 1)</tspan></text>
<text class="b" x="232.4" y="273.3" style="font-size:40.50px;letter-spacing:1.00px;"><tspan dy="0.0">Nb</tspan><tspan dy="17.5" style="font-size:24.0px">2</tspan><tspan dy="-17.5">O</tspan><tspan dy="17.5" style="font-size:24.0px">5</tspan><tspan dy="-17.5">(0 0 5)</tspan></text>
<text class="b" x="810.6" y="305.8" style="font-size:40.50px;letter-spacing:1.00px;"><tspan dy="0.0">Nb</tspan><tspan dy="17.5" style="font-size:24.0px">2</tspan><tspan dy="-17.5">O</tspan><tspan dy="17.5" style="font-size:24.0px">5</tspan><tspan dy="-17.5">(5 1 0)</tspan></text>
<text class="b" x="1060.0" y="280.1" style="font-size:40.50px;letter-spacing:1.17px;"><tspan dy="0.0">Nb</tspan><tspan dy="17.5" style="font-size:24.0px">2</tspan><tspan dy="-17.5">O</tspan><tspan dy="17.5" style="font-size:24.0px">5</tspan><tspan dy="-17.5">(1 1 2)</tspan></text>
<text class="b" x="1327.0" y="295.5" style="font-size:40.50px;letter-spacing:0.95px;"><tspan dy="0.0">Nb</tspan><tspan dy="17.5" style="font-size:24.0px">2</tspan><tspan dy="-17.5">O</tspan><tspan dy="17.5" style="font-size:24.0px">5</tspan><tspan dy="-17.5">(2 1 5)</tspan></text>
<text class="b" x="1267.8" y="476.8" style="font-size:40.50px;letter-spacing:1.17px;"><tspan dy="0.0">Nb</tspan><tspan dy="17.5" style="font-size:24.0px">2</tspan><tspan dy="-17.5">O</tspan><tspan dy="17.5" style="font-size:24.0px">5</tspan><tspan dy="-17.5">(3 8 1)</tspan></text>
<text class="b" x="1340.8" y="644.7" style="font-size:40.50px;letter-spacing:1.23px;"><tspan dy="0.0">Nb</tspan><tspan dy="17.5" style="font-size:24.0px">2</tspan><tspan dy="-17.5">O</tspan><tspan dy="17.5" style="font-size:24.0px">5</tspan><tspan dy="-17.5">(0 0 8)</tspan></text>
<text class="b" x="405.8" y="1393.6" style="font-size:40.50px;letter-spacing:0.89px;"><tspan dy="0.0">TiNb</tspan><tspan dy="17.5" style="font-size:24.0px">2</tspan><tspan dy="-17.5">O</tspan><tspan dy="17.5" style="font-size:24.0px">7</tspan><tspan dy="-17.5">(-3 1 2)</tspan></text>
<text class="b" x="798.2" y="1400.5" style="font-size:40.50px;letter-spacing:0.69px;"><tspan dy="0.0">TiNb</tspan><tspan dy="17.5" style="font-size:24.0px">2</tspan><tspan dy="-17.5">O</tspan><tspan dy="17.5" style="font-size:24.0px">7</tspan><tspan dy="-17.5">(0 2 0)</tspan></text>
<text class="b" x="1206.6" y="1393.2" style="font-size:40.50px;letter-spacing:0.74px;"><tspan dy="0.0">TiNbO</tspan><tspan dy="17.5" style="font-size:24.0px">4</tspan><tspan dy="-17.5">(2 2 0)</tspan></text>
<text class="b" x="1392.6" y="1535.7" style="font-size:40.50px;letter-spacing:0.85px;"><tspan dy="0.0">TiNb</tspan><tspan dy="17.5" style="font-size:24.0px">2</tspan><tspan dy="-17.5">O</tspan><tspan dy="17.5" style="font-size:24.0px">7</tspan><tspan dy="-17.5">(-6 2 2)</tspan></text>
<text class="b" x="1287.6" y="1759.5" style="font-size:40.50px;letter-spacing:0.82px;"><tspan dy="0.0">TiNb</tspan><tspan dy="17.5" style="font-size:24.0px">2</tspan><tspan dy="-17.5">O</tspan><tspan dy="17.5" style="font-size:24.0px">7</tspan><tspan dy="-17.5">(-11 1 2)</tspan></text>
<text class="b" x="1223.2" y="1917.1" style="font-size:40.50px;letter-spacing:0.89px;"><tspan dy="0.0">TiNb</tspan><tspan dy="17.5" style="font-size:24.0px">2</tspan><tspan dy="-17.5">O</tspan><tspan dy="17.5" style="font-size:24.0px">7</tspan><tspan dy="-17.5">(10 0 1)</tspan></text>
<text class="b" x="152.5" y="1097.3" style="font-size:58.50px;text-anchor:middle">20</text>
<text class="b" x="356.5" y="1097.3" style="font-size:58.50px;text-anchor:middle">25</text>
<text class="b" x="560.5" y="1097.3" style="font-size:58.50px;text-anchor:middle">30</text>
<text class="b" x="764.6" y="1097.3" style="font-size:58.50px;text-anchor:middle">35</text>
<text class="b" x="968.6" y="1097.3" style="font-size:58.50px;text-anchor:middle">40</text>
<text class="b" x="1172.6" y="1097.3" style="font-size:58.50px;text-anchor:middle">45</text>
<text class="b" x="1376.7" y="1097.3" style="font-size:58.50px;text-anchor:middle">50</text>
<text class="b" x="1580.7" y="1097.3" style="font-size:58.50px;text-anchor:middle">55</text>
<text class="b" x="1784.7" y="1097.3" style="font-size:58.50px;text-anchor:middle">60</text>
<text class="b" x="168.4" y="2382.8" style="font-size:58.50px;text-anchor:middle">20</text>
<text class="b" x="371.5" y="2382.8" style="font-size:58.50px;text-anchor:middle">25</text>
<text class="b" x="574.7" y="2382.8" style="font-size:58.50px;text-anchor:middle">30</text>
<text class="b" x="777.8" y="2382.8" style="font-size:58.50px;text-anchor:middle">35</text>
<text class="b" x="980.9" y="2382.8" style="font-size:58.50px;text-anchor:middle">40</text>
<text class="b" x="1184.1" y="2382.8" style="font-size:58.50px;text-anchor:middle">45</text>
<text class="b" x="1387.2" y="2382.8" style="font-size:58.50px;text-anchor:middle">50</text>
<text class="b" x="1590.4" y="2382.8" style="font-size:58.50px;text-anchor:middle">55</text>
<text class="b" x="1793.5" y="2382.8" style="font-size:58.50px;text-anchor:middle">60</text>
<text class="sb" x="804.6" y="1192.0" style="font-size:75.00px;">2</text>
<text class="sr" style="font-size:72.00px;" transform="translate(842.0,1192.0) scale(1.250,1)">&#952;</text>
<text class="srl" x="898.0" y="1192.0" style="font-size:72.00px;">(</text>
<text class="sb" x="924.8" y="1192.0" style="font-size:72.00px;letter-spacing:2.94px;">degree</text>
<text class="srl" x="1139.2" y="1192.0" style="font-size:72.00px;">)</text>
<text class="sb" x="798.4" y="2479.2" style="font-size:75.00px;">2</text>
<text class="sr" style="font-size:72.00px;" transform="translate(835.8,2479.2) scale(1.250,1)">&#952;</text>
<text class="srl" x="894.2" y="2479.2" style="font-size:72.00px;">(</text>
<text class="sb" x="917.6" y="2479.2" style="font-size:72.00px;letter-spacing:2.94px;">degree</text>
<text class="srl" x="1133.8" y="2479.2" style="font-size:72.00px;">)</text>
<text class="sr" x="884.0" y="1301.0" style="font-size:84.00px;">(</text>
<text class="sb" x="911.4" y="1301.0" style="font-size:84.00px;">a</text>
<text class="sr" x="952.6" y="1301.0" style="font-size:84.00px;">)</text>
<text class="sr" x="879.6" y="2594.0" style="font-size:84.00px;">(</text>
<text class="sb" style="font-size:84.00px;" transform="translate(905.6,2594.0) scale(1.080,1)">b</text>
<text class="sr" x="957.2" y="2594.0" style="font-size:84.00px;">)</text>
<text class="b" style="font-size:79.19px" text-anchor="middle" transform="translate(101.6,543.3) rotate(-90)">Intensity (arb.units)</text>
<text class="b" style="font-size:78.49px" text-anchor="middle" transform="translate(113.3,1800.7) rotate(-90)">Intensity (arb.units)</text>
</svg>
</body></html>
